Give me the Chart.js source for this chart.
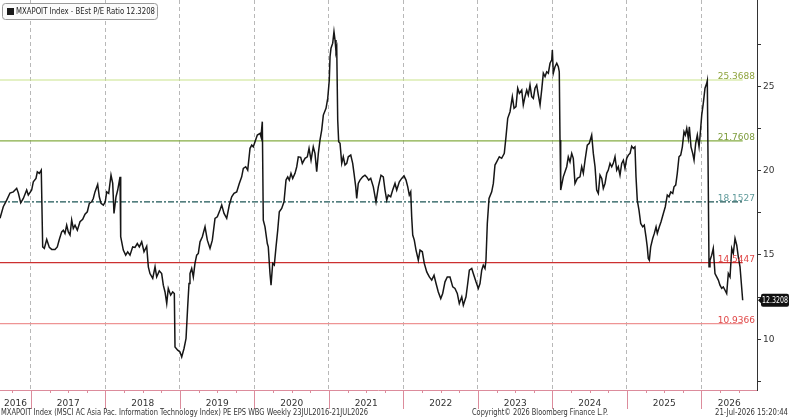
<!DOCTYPE html>
<html>
<head>
<meta charset="utf-8">
<script src="https://cdn.jsdelivr.net/npm/chart.js@4.4.1/dist/chart.umd.min.js"></script>
<style>
  html, body { margin: 0; padding: 0; background: #fff; }
  #wrap { width: 789px; height: 419px; }
</style>
</head>
<body>
<div id="wrap"><canvas id="peChart" width="789" height="419"></canvas></div>
<script>
// MXAPOIT Index BEst P/E, weekly: [decimal year, P/E]
var pe2016 = [[2016.584,17.17],[2016.628,17.86],[2016.674,18.25],[2016.718,18.67],[2016.763,18.74],[2016.808,18.95],[2016.830,18.67],[2016.862,18.09],[2016.897,18.35],[2016.942,18.85],[2016.964,18.55]];
var pe2017 = [[2017.009,18.85],[2017.031,19.34],[2017.067,19.54],[2017.085,19.93],[2017.112,19.84],[2017.138,20.03],[2017.157,15.48],[2017.179,15.39],[2017.211,15.92],[2017.246,15.45],[2017.278,15.33],[2017.322,15.33],[2017.353,15.48],[2017.380,15.92],[2017.412,16.37],[2017.434,16.47],[2017.456,16.28],[2017.479,16.77],[2017.501,16.37],[2017.524,16.18],[2017.546,17.07],[2017.568,16.57],[2017.591,16.77],[2017.622,16.47],[2017.658,16.97],[2017.694,17.11],[2017.725,17.42],[2017.756,17.56],[2017.783,18.06],[2017.815,18.15],[2017.836,18.35],[2017.859,18.74],[2017.895,19.18],[2017.917,18.45],[2017.940,18.06],[2017.971,17.96],[2017.997,18.15]];
var pe2018 = [[2018.016,18.74],[2018.043,18.65],[2018.074,19.73],[2018.097,19.24],[2018.114,17.46],[2018.141,18.45],[2018.164,18.85],[2018.195,19.63],[2018.204,16.08],[2018.239,15.29],[2018.271,14.99],[2018.298,15.19],[2018.329,14.99],[2018.365,15.48],[2018.396,15.45],[2018.427,15.68],[2018.454,15.48],[2018.486,15.78],[2018.517,15.19],[2018.553,15.52],[2018.575,14.30],[2018.597,13.90],[2018.634,13.61],[2018.665,14.30],[2018.687,13.70],[2018.722,14.06],[2018.754,13.90],[2018.776,13.21],[2018.799,12.81],[2018.822,12.13],[2018.843,13.02],[2018.875,12.62],[2018.902,12.81],[2018.924,12.72],[2018.933,9.55],[2018.969,9.36]];
var pe2019 = [[2019.000,9.26],[2019.023,8.96],[2019.054,9.46],[2019.081,10.05],[2019.103,11.92],[2019.121,13.31],[2019.134,13.90],[2019.157,14.20],[2019.179,13.70],[2019.201,14.50],[2019.224,14.99],[2019.246,15.09],[2019.269,15.78],[2019.300,16.08],[2019.336,16.67],[2019.367,15.88],[2019.403,15.39],[2019.434,15.88],[2019.470,17.17],[2019.501,17.26],[2019.537,17.66],[2019.560,17.96],[2019.591,17.46],[2019.627,17.17],[2019.662,17.96],[2019.694,18.45],[2019.725,18.65],[2019.761,18.74],[2019.796,19.24],[2019.828,19.63],[2019.850,20.13],[2019.882,20.23],[2019.909,20.03],[2019.940,21.32],[2019.963,21.51],[2019.984,21.41]];
var pe2020 = [[2020.007,21.71],[2020.038,22.11],[2020.074,22.21],[2020.087,22.01],[2020.105,22.90],[2020.118,17.07],[2020.141,16.67],[2020.172,15.68],[2020.185,15.48],[2020.208,13.90],[2020.222,13.21],[2020.244,14.50],[2020.266,14.40],[2020.289,15.48],[2020.312,16.47],[2020.333,17.56],[2020.365,17.76],[2020.396,18.15],[2020.423,19.44],[2020.446,19.63],[2020.467,19.44],[2020.490,19.84],[2020.513,19.54],[2020.544,19.84],[2020.567,20.23],[2020.588,20.82],[2020.620,20.79],[2020.642,20.43],[2020.678,20.73],[2020.709,20.82],[2020.732,21.32],[2020.759,20.62],[2020.789,21.41],[2020.812,21.02],[2020.835,19.93],[2020.857,21.02],[2020.879,21.81],[2020.902,22.40],[2020.924,23.29],[2020.960,23.69],[2020.983,24.28]];
var pe2021 = [[2021.004,25.37],[2021.014,26.75],[2021.027,27.25],[2021.050,27.55],[2021.067,28.23],[2021.081,27.74],[2021.094,27.05],[2021.104,27.25],[2021.117,23.00],[2021.130,21.71],[2021.148,21.62],[2021.171,20.43],[2021.192,20.82],[2021.215,20.33],[2021.238,20.43],[2021.259,20.82],[2021.292,20.92],[2021.318,20.43],[2021.336,19.84],[2021.359,19.04],[2021.372,18.35],[2021.393,19.24],[2021.416,19.44],[2021.452,19.63],[2021.483,19.73],[2021.506,19.63],[2021.533,19.44],[2021.560,19.54],[2021.595,19.04],[2021.631,18.15],[2021.662,19.04],[2021.698,19.73],[2021.729,19.63],[2021.752,18.85],[2021.775,18.25],[2021.796,18.55],[2021.828,18.45],[2021.855,18.85],[2021.886,19.24],[2021.909,18.85],[2021.944,19.34],[2021.976,19.54]];
var pe2022 = [[2022.007,19.69],[2022.034,19.44],[2022.057,19.04],[2022.078,18.55],[2022.097,18.74],[2022.110,17.26],[2022.124,16.18],[2022.145,15.88],[2022.168,15.29],[2022.199,14.69],[2022.222,15.29],[2022.253,15.19],[2022.279,14.50],[2022.312,14.00],[2022.347,13.70],[2022.379,13.51],[2022.410,13.80],[2022.437,13.31],[2022.467,12.81],[2022.500,12.42],[2022.526,12.72],[2022.557,13.41],[2022.588,13.70],[2022.624,13.70],[2022.661,13.11],[2022.691,13.02],[2022.722,12.72],[2022.749,12.13],[2022.782,12.52],[2022.803,12.02],[2022.839,12.52],[2022.862,13.31],[2022.884,14.10],[2022.916,14.20],[2022.937,13.90],[2022.973,13.41]];
var pe2023 = [[2023.004,13.02],[2023.027,13.31],[2023.050,14.10],[2023.071,14.40],[2023.094,14.20],[2023.107,14.69],[2023.125,16.87],[2023.148,18.35],[2023.184,18.74],[2023.206,19.24],[2023.228,20.33],[2023.251,20.52],[2023.286,20.82],[2023.318,20.73],[2023.353,21.02],[2023.376,22.01],[2023.399,23.10],[2023.430,23.49],[2023.461,24.38],[2023.484,23.69],[2023.510,23.79],[2023.533,24.88],[2023.555,24.58],[2023.587,24.78],[2023.608,23.89],[2023.631,24.38],[2023.654,24.78],[2023.675,24.48],[2023.698,25.07],[2023.721,24.38],[2023.743,24.28],[2023.765,24.88],[2023.788,25.07],[2023.810,24.48],[2023.833,23.89],[2023.855,24.78],[2023.877,25.77],[2023.900,25.57],[2023.922,25.86],[2023.944,25.77],[2023.967,26.36],[2023.990,26.56],[2023.998,27.15]];
var pe2024 = [[2024.011,25.77],[2024.034,26.16],[2024.057,26.36],[2024.078,26.16],[2024.091,25.86],[2024.101,21.81],[2024.110,18.85],[2024.145,19.63],[2024.191,20.23],[2024.212,20.82],[2024.235,20.52],[2024.258,21.02],[2024.279,20.73],[2024.302,19.24],[2024.333,19.54],[2024.369,19.63],[2024.392,20.23],[2024.414,19.84],[2024.437,20.62],[2024.467,21.51],[2024.494,21.62],[2024.526,22.11],[2024.548,21.02],[2024.571,20.23],[2024.593,18.85],[2024.615,18.65],[2024.638,19.73],[2024.661,19.54],[2024.682,18.95],[2024.705,19.24],[2024.728,19.84],[2024.749,20.03],[2024.772,20.43],[2024.795,20.23],[2024.816,20.43],[2024.839,20.82],[2024.862,20.03],[2024.883,20.23],[2024.906,19.73],[2024.929,20.43],[2024.951,20.62],[2024.973,20.13],[2024.996,20.73]];
var pe2025 = [[2025.018,20.92],[2025.041,21.02],[2025.063,21.45],[2025.085,21.32],[2025.107,21.41],[2025.121,19.63],[2025.138,18.25],[2025.161,17.66],[2025.184,16.87],[2025.211,16.67],[2025.232,16.77],[2025.255,16.08],[2025.272,15.48],[2025.286,14.79],[2025.300,14.69],[2025.318,15.48],[2025.345,15.98],[2025.367,16.28],[2025.390,16.67],[2025.407,16.28],[2025.434,16.67],[2025.457,16.97],[2025.488,17.46],[2025.514,17.86],[2025.541,18.55],[2025.564,18.45],[2025.587,18.74],[2025.614,18.65],[2025.631,19.04],[2025.654,19.14],[2025.675,19.84],[2025.698,20.82],[2025.721,20.92],[2025.743,21.41],[2025.765,22.30],[2025.783,22.11],[2025.802,22.50],[2025.823,21.91],[2025.837,22.60],[2025.859,21.41],[2025.882,21.02],[2025.900,20.62],[2025.922,21.62],[2025.944,22.11],[2025.967,21.41],[2025.980,22.01]];
var pe2026 = [[2026.003,23.29],[2026.024,23.99],[2026.047,24.88],[2026.070,25.17],[2026.078,25.33],[2026.101,14.30],[2026.114,14.69],[2026.137,14.99],[2026.158,15.39],[2026.181,13.90],[2026.204,13.70],[2026.226,13.51],[2026.248,13.21],[2026.271,13.02],[2026.293,13.11],[2026.316,12.91],[2026.338,12.72],[2026.360,13.90],[2026.383,13.70],[2026.406,15.39],[2026.427,15.09],[2026.450,15.98],[2026.473,15.58],[2026.494,14.89],[2026.517,14.30],[2026.553,12.3208]];

// mean and +/- 1, 2 standard deviations
var bandValues = [25.3688, 21.7608, 18.1527, 14.5447, 10.9366];
var bandLabels = ['25.3688', '21.7608', '18.1527', '14.5447', '10.9366'];
var yearLabels = ['2016', '2017', '2018', '2019', '2020', '2021', '2022', '2023', '2024', '2025', '2026'];
var yTicks = [7.5, 10, 12.5, 15, 17.5, 20, 22.5, 25, 27.5];
var lastValue = '12.3208';
var legendText = 'MXAPOIT Index - BEst P/E Ratio 12.3208';
var footLeft = 'MXAPOIT Index (MSCI AC Asia Pac. Information Technology Index) PE EPS WBG Weekly 23JUL2016-21JUL2026';
var footMid = 'Copyright\u00a9 2026 Bloomberg Finance L.P.';
var footRight = '21-Jul-2026 15:20:44';

var series = [].concat(pe2016, pe2017, pe2018, pe2019, pe2020, pe2021, pe2022, pe2023, pe2024, pe2025, pe2026)
  .map(function (p) { return { x: p[0], y: p[1] }; });
var firstX = series[0].x, lastX = series[series.length - 1].x;

var bandLine = ['#c9e38c', '#86ad45', '#1d5656', '#cc3030', '#ee9494'];
var bandInk = ['#8ea33c', '#7d9c3c', '#5f9a9a', '#e04848', '#e04848'];
var FONT = '"DejaVu Sans", Verdana, sans-serif';

var datasets = bandValues.map(function (v, i) {
  return {
    data: [{ x: firstX, y: v }, { x: lastX, y: v }],
    borderColor: bandLine[i],
    borderWidth: 1.2,
    borderDash: i === 2 ? [6, 2, 2, 2] : [],
    pointRadius: 0,
    order: 2
  };
});
datasets.push({
  data: series,
  borderColor: '#161616',
  borderWidth: 1.5,
  pointRadius: 0,
  tension: 0,
  order: 0
});

function roundRect(c, x, y, w, h, r) {
  c.beginPath();
  c.moveTo(x + r, y);
  c.lineTo(x + w - r, y); c.quadraticCurveTo(x + w, y, x + w, y + r);
  c.lineTo(x + w, y + h - r); c.quadraticCurveTo(x + w, y + h, x + w - r, y + h);
  c.lineTo(x + r, y + h); c.quadraticCurveTo(x, y + h, x, y + h - r);
  c.lineTo(x, y + r); c.quadraticCurveTo(x, y, x + r, y);
  c.closePath();
}

var decor = {
  id: 'decor',
  afterDraw: function (chart) {
    var c = chart.ctx, a = chart.chartArea, xs = chart.scales.x, ys = chart.scales.y;
    c.save();

    // bottom axis, year and quarter ticks
    c.strokeStyle = '#dc8c9c';
    c.lineWidth = 1;
    c.beginPath(); c.moveTo(a.left, a.bottom + 0.5); c.lineTo(a.right, a.bottom + 0.5); c.stroke();
    c.font = '9px ' + FONT;
    c.textAlign = 'center';
    c.textBaseline = 'middle';
    for (var i = 0; i < yearLabels.length; i++) {
      var yr = parseInt(yearLabels[i], 10);
      for (var q = 0; q < 4; q++) {
        var px = Math.round(xs.getPixelForValue(yr + q / 4)) + 0.5;
        if (px < a.left || px > a.right) continue;
        c.beginPath(); c.moveTo(px, a.bottom); c.lineTo(px, a.bottom + (q === 0 ? 19 : 3)); c.stroke();
      }
      var l = Math.max(a.left, xs.getPixelForValue(yr));
      var r = Math.min(a.right, xs.getPixelForValue(yr + 1));
      c.fillStyle = '#333';
      c.fillText(yearLabels[i], (l + r) / 2, a.bottom + 14);
    }

    // band labels
    c.textAlign = 'right';
    c.textBaseline = 'alphabetic';
    for (var b = 0; b < bandValues.length; b++) {
      c.fillStyle = bandInk[b];
      c.fillText(bandLabels[b], a.right - 2, ys.getPixelForValue(bandValues[b]) - 1);
    }

    // last value tag
    var ly = ys.getPixelForValue(parseFloat(lastValue));
    c.fillStyle = '#111';
    roundRect(c, a.right + 4, ly - 6.5, 789 - a.right - 4, 13, 2);
    c.fill();
    c.beginPath(); c.moveTo(a.right + 1, ly); c.lineTo(a.right + 5, ly - 4); c.lineTo(a.right + 5, ly + 4); c.closePath(); c.fill();
    c.fillStyle = '#fff';
    c.textAlign = 'left';
    c.textBaseline = 'middle';
    c.font = '9px ' + FONT;
    c.fillText(lastValue, a.right + 5, ly + 0.5, 789 - a.right - 6);

    // legend box
    c.fillStyle = '#fbfbfb';
    c.strokeStyle = '#9a9a9a';
    roundRect(c, 2.5, 3.5, 155, 16, 3);
    c.fill(); c.stroke();
    c.fillStyle = '#1a1a1a';
    c.fillRect(7, 8, 7, 7);
    c.fillStyle = '#222';
    c.font = '9px ' + FONT;
    c.fillText(legendText, 16, 12, 139);

    // footer
    c.fillStyle = '#333';
    c.font = '8px ' + FONT;
    c.fillText(footLeft, 1, 413, 367);
    c.textAlign = 'center';
    c.fillText(footMid, 540, 413, 136);
    c.textAlign = 'right';
    c.fillText(footRight, 788, 413, 73);

    c.restore();
  }
};

new Chart(document.getElementById('peChart'), {
  type: 'line',
  data: { datasets: datasets },
  options: {
    responsive: false,
    animation: false,
    devicePixelRatio: 1,
    layout: { padding: 0 },
    plugins: { legend: { display: false }, tooltip: { enabled: false } },
    scales: {
      x: {
        type: 'linear',
        position: 'bottom',
        min: 2016.584,
        max: 2026.745,
        afterBuildTicks: function (s) {
          s.ticks = yearLabels.slice(1).map(function (y) { return { value: parseInt(y, 10) }; });
        },
        afterFit: function (s) { s.height = 29; s.paddingLeft = 0; s.paddingRight = 0; },
        ticks: { display: false },
        grid: { color: '#b8b8b8', lineWidth: 1, drawTicks: false },
        border: { display: false, dash: [4, 3] }
      },
      y: {
        type: 'linear',
        position: 'right',
        min: 7,
        max: 30.11,
        afterBuildTicks: function (s) {
          s.ticks = yTicks.map(function (v) { return { value: v }; });
        },
        afterFit: function (s) { s.width = 32; s.paddingTop = 0; s.paddingBottom = 0; },
        ticks: {
          padding: 2,
          color: '#333',
          font: { family: FONT, size: 9 },
          callback: function (v) { return v % 5 === 0 ? String(v) : ''; }
        },
        grid: { drawOnChartArea: false, drawTicks: true, tickLength: 4, color: '#333' },
        border: { display: true, color: '#333', width: 1 }
      }
    }
  },
  plugins: [decor]
});
</script>
</body>
</html>
